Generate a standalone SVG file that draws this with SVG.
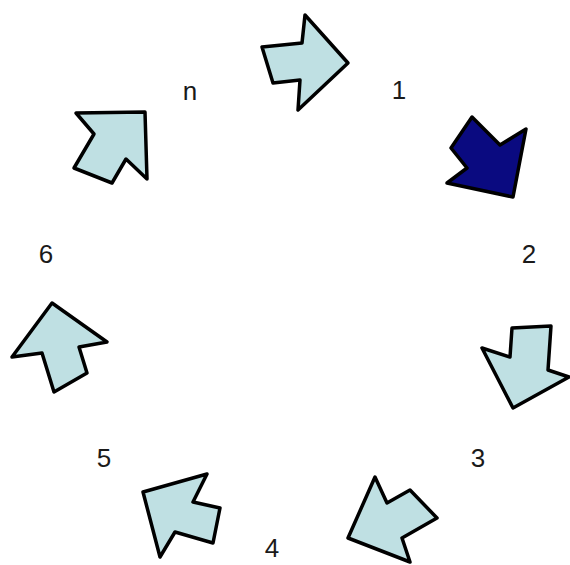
<svg xmlns="http://www.w3.org/2000/svg" width="570" height="565" viewBox="0 0 570 565">
<style>
.a{fill:#bfe0e3;stroke:#000;stroke-width:3.5;stroke-linejoin:round}
.d{fill:#0a0a80}
.t{font-family:"Liberation Sans",Arial,sans-serif;font-size:26px;fill:#1a1a1a;text-anchor:middle}
</style>
<rect width="570" height="565" fill="#fff"/>
<g id="arrow-1"><polygon class="a" points="262,47 302,43 305,15 348,63 298,110 300,80 273,83"/></g>
<g id="arrow-2"><polygon class="a d" points="472,117 500,145 526,129 513,197 447,183 467,168 451,148"/></g>
<g id="arrow-3"><polygon class="a" points="512,328 551,326 548,370 569,377 513,408 482,348 510,357"/></g>
<g id="arrow-4"><polygon class="a" points="375,477 387,503 410,490 437,518 402,538 410,562 348,538"/></g>
<g id="arrow-5"><polygon class="a" points="143,492 207,474 193,502 220,508 213,543 175,532 160,557"/></g>
<g id="arrow-6"><polygon class="a" points="52,303 107,342 79,347 87,373 54,392 42,353 12,357"/></g>
<g id="arrow-n"><polygon class="a" points="76,113 145,112 147,179 126,159 112,183 74,168 94,134"/></g>
<g id="labels">
<text class="t" x="399" y="99">1</text>
<text class="t" x="529" y="263">2</text>
<text class="t" x="478" y="467">3</text>
<text class="t" x="272" y="557">4</text>
<text class="t" x="104" y="467">5</text>
<text class="t" x="46" y="263">6</text>
<text class="t" x="190" y="100">n</text>
</g>
</svg>
